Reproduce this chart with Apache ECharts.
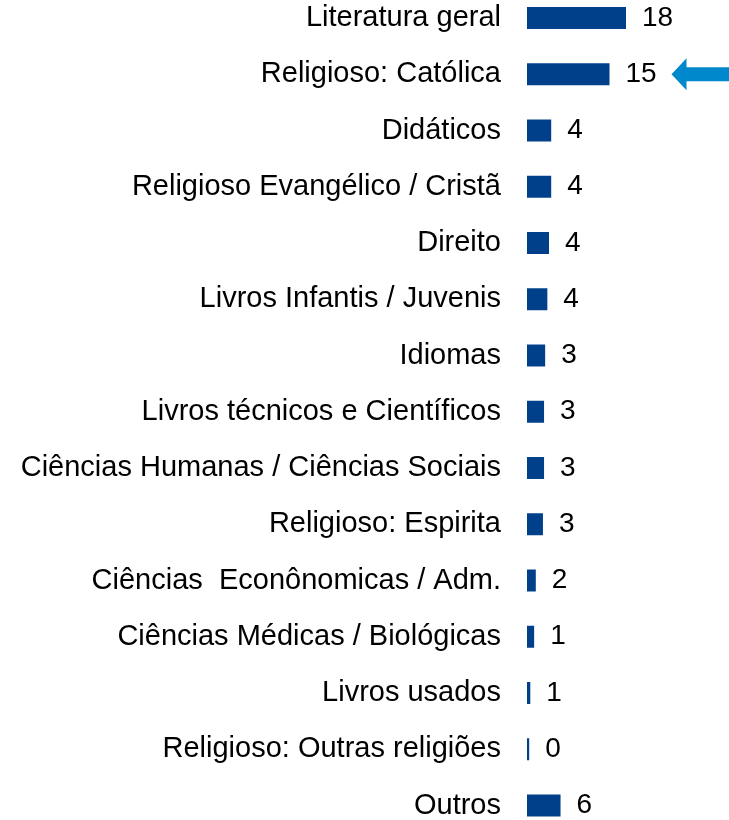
<!DOCTYPE html>
<html>
<head>
<meta charset="utf-8">
<script src="https://cdn.jsdelivr.net/npm/echarts@6/dist/echarts.min.js"></script>
<style>
html, body { margin: 0; padding: 0; background: #fff; }
#chart { width: 729px; height: 820px; }
</style>
</head>
<body>
<div id="chart"></div>
<script>
// categorias (de cima para baixo)
const categories = [
  'Literatura geral',
  'Religioso: Católica',
  'Didáticos',
  'Religioso Evangélico / Cristã',
  'Direito',
  'Livros Infantis / Juvenis',
  'Idiomas',
  'Livros técnicos e Científicos',
  'Ciências Humanas / Ciências Sociais',
  'Religioso: Espirita',
  'Ciências  Econônomicas / Adm.',
  'Ciências Médicas / Biológicas',
  'Livros usados',
  'Religioso: Outras religiões',
  'Outros'
];
// valores estimados pelo comprimento das barras
const values = [18, 15, 4.4, 4.4, 4.0, 3.7, 3.3, 3.1, 3.1, 2.9, 1.6, 1.3, 0.6, 0.4, 6.1];
// categoria destacada pela seta
const highlighted = 'Religioso: Católica';

const chart = echarts.init(document.getElementById('chart'));

chart.setOption({
  animation: false,
  grid: { left: 527, right: 92, top: 18, bottom: 13 },
  xAxis: { type: 'value', min: 0, max: 20, show: false },
  yAxis: {
    type: 'category',
    data: categories,
    inverse: true,
    boundaryGap: false,
    axisLine: { show: false },
    axisTick: { show: false },
    splitLine: { show: false },
    axisLabel: {
      margin: 26,
      color: '#000',
      fontFamily: 'Liberation Sans, Arial, sans-serif',
      fontSize: 29
    }
  },
  series: [{
    type: 'bar',
    data: values,
    barWidth: 22,
    clip: false,
    itemStyle: { color: '#00408A' },
    label: {
      show: true,
      position: 'right',
      distance: 16,
      color: '#000',
      fontFamily: 'Liberation Sans, Arial, sans-serif',
      fontSize: 28,
      formatter: p => Math.round(p.value)
    },
    markPoint: {
      silent: true,
      symbol: 'path://M0,16 L15,0 L15,9 L58,9 L58,23 L15,23 L15,32 Z',
      symbolSize: [58, 32],
      symbolOffset: [91, 0],
      itemStyle: { color: '#0088CC' },
      label: { show: false },
      data: [{ coord: [values[categories.indexOf(highlighted)], highlighted] }]
    }
  }]
});
</script>
</body>
</html>
